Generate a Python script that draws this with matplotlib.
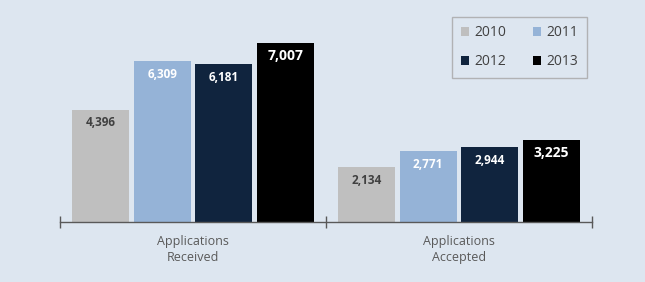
import numpy as np
import matplotlib.pyplot as plt
from matplotlib.patches import Patch

# dados do grafico
categories = ["Applications\nReceived", "Applications\nAccepted"]
years = ["2010", "2011", "2012", "2013"]
values = {
    "2010": [4396, 2134],
    "2011": [6309, 2771],
    "2012": [6181, 2944],
    "2013": [7007, 3225],
}

BG = "#dde6f0"
colors = ["#bfbfbf", "#95b3d7", "#10243e", "#000000"]
label_colors = ["#404040", "#ffffff", "#ffffff", "#ffffff"]
label_sizes = [8.5, 8.5, 8.5, 10]

plt.rcParams['font.family'] = ['Open Sans', 'DejaVu Sans']

fig = plt.figure(figsize=(6.45, 2.82), dpi=100, facecolor=BG)
ax = fig.add_axes([60 / 645, 60 / 282, 532 / 645, 191.6 / 282])
ax.set_facecolor(BG)

x = np.arange(len(categories))
step, width = 0.232, 0.214
offsets = (np.arange(len(years)) - 1.5) * step

for i, yr in enumerate(years):
    bars = ax.bar(x + offsets[i], values[yr], width, color=colors[i], label=yr, zorder=2)
    for b, v in zip(bars, values[yr]):
        ax.text(b.get_x() + b.get_width() / 2, v - 520, f"{v:,}",
                ha="center", va="center", fontsize=label_sizes[i],
                fontweight="bold", color=label_colors[i], zorder=3)

ax.set_xlim(-0.5, 1.5)
ax.set_ylim(0, 7500)
for s in ["top", "right", "left"]:
    ax.spines[s].set_visible(False)
ax.spines["bottom"].set_color("#595959")
ax.spines["bottom"].set_linewidth(1.0)
ax.set_yticks([])

# marcas entre grupos, cruzando o eixo
ax.set_xticks([-0.5, 0.5, 1.5], minor=True)
ax.tick_params(axis="x", which="minor", direction="inout", length=9, width=1, color="#595959")
ax.set_xticks(x)
ax.set_xticklabels(categories, fontsize=9, color="#595959", linespacing=1.35)
ax.tick_params(axis="x", which="major", length=0, pad=9)

# legenda preenchida por linha: 2010 2011 / 2012 2013
order = [0, 2, 1, 3]
handles = [Patch(facecolor=colors[k], edgecolor="none", label=years[k]) for k in order]
leg = ax.legend(handles=handles, ncol=2, loc="upper right", bbox_to_anchor=(0.9906, 1.07),
                borderaxespad=0, frameon=True, fancybox=False, fontsize=10,
                handlelength=0.6, handleheight=0.6, columnspacing=1.9,
                labelspacing=1.0, handletextpad=0.4, borderpad=0.6)
leg.get_frame().set_facecolor(BG)
leg.get_frame().set_edgecolor("#a6a6a6")
for t in leg.get_texts():
    t.set_color("#404040")

fig.savefig("out.png", dpi=100, facecolor=BG)
